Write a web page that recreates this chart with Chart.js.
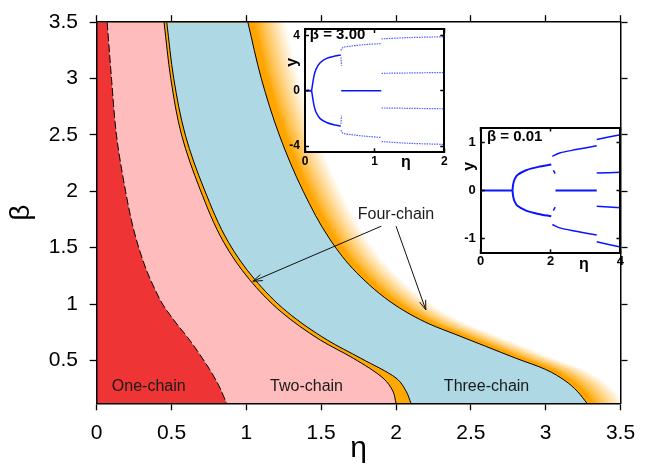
<!DOCTYPE html>
<html>
<head>
<meta charset="utf-8">
<script src="https://cdn.jsdelivr.net/npm/chart.js@4/dist/chart.umd.min.js"></script>
<style>
  html, body { margin: 0; padding: 0; background: #fff; }
  #wrap { position: relative; width: 648px; height: 464px; }
  #wrap canvas { position: absolute; }
</style>
</head>
<body>
<div id="wrap">
  <canvas id="main" width="648" height="464" style="left:0;top:0"></canvas>
  <canvas id="inset3" width="185" height="165" style="left:270px;top:14px"></canvas>
  <canvas id="inset0" width="185" height="172" style="left:445px;top:112px"></canvas>
</div>
<script>
Chart.defaults.font.family = '"Liberation Sans", Arial, sans-serif';
Chart.defaults.color = '#000';

// ---- phase diagram ----
const etaTicks = [0, 0.5, 1, 1.5, 2, 2.5, 3, 3.5];
const betaTicks = [0.5, 1, 1.5, 2, 2.5, 3, 3.5];

// boundaries, read from the top (beta = 3.5) down to the bottom edge
const oneTwoBeta = [3.5, 3.0, 2.5, 2.0, 1.63, 1.31, 1.12, 1.0, 0.85, 0.7, 0.58, 0.43, 0.28, 0.12];
const oneTwoEta  = [0.07, 0.099, 0.132, 0.193, 0.253, 0.33, 0.393, 0.44, 0.52, 0.61, 0.675, 0.75, 0.815, 0.868];

const twoFourBeta = [3.5, 3.0, 2.5, 2.02, 1.545, 1.219, 0.928, 0.68, 0.519, 0.344, 0.228, 0.12];
const twoFourEta  = [0.45, 0.495, 0.567, 0.69, 0.85, 1.02, 1.235, 1.495, 1.715, 1.913, 1.979, 2.0];

const fourThreeBeta = [3.5, 3.0, 2.5, 2.02, 1.545, 1.219, 0.928, 0.68, 0.519, 0.344, 0.228, 0.12];
const fourThreeEta  = [0.468, 0.515, 0.592, 0.718, 0.882, 1.056, 1.275, 1.542, 1.765, 2.0, 2.067, 2.10];

const threeFourBeta = [3.5, 3.0, 2.5, 2.0, 1.569, 1.278, 0.986, 0.825, 0.73, 0.625, 0.52, 0.42, 0.32, 0.228, 0.12];
const threeFourEta  = [1.01, 1.10, 1.22, 1.38, 1.561, 1.737, 2.0, 2.22, 2.4, 2.6, 2.8, 3.0, 3.13, 3.21, 3.276];

const noteText = ['One-chain', 'Two-chain', 'Three-chain', 'Four-chain'];
const noteEta  = [0.348, 1.402, 2.605, 2.0];
const noteBeta = [0.265, 0.265, 0.265, 1.79];
const arrowTail = [[1.902, 1.691], [2.0, 1.691]];
const arrowHead = [[1.044, 1.202], [2.199, 0.949]];

// ---- inset, beta = 3.00 ----
const b3EtaTicks = [0, 1, 2];
const b3YTicks = [-4, 0, 4];
const b3Zero1Eta = [0, 0.095], b3Zero1Y = [0, 0];
const b3UpEta = [0.095, 0.11, 0.13, 0.157, 0.214, 0.31, 0.43, 0.514];
const b3UpY   = [0, 0.5, 1.08, 1.54, 2.0, 2.33, 2.5, 2.58];
const b3LoY   = [0, -0.5, -1.08, -1.54, -2.0, -2.3, -2.48, -2.55];
const b3JumpEta = [0.515, 0.525], b3JumpUpY = [2.4, 1.8], b3JumpLoY = [-2.4, -1.8];
const b3Up2Eta = [0.514, 0.548, 0.667, 0.85, 1.095];
const b3Up2Y   = [2.9, 3.12, 3.22, 3.32, 3.4];
const b3Lo2Y   = [-2.85, -3.08, -3.18, -3.28, -3.38];
const b3Zero2Eta = [0.52, 1.095], b3Zero2Y = [0, 0];
const b3Out3Eta = [1.1, 1.5, 2.0];
const b3Up3Y = [3.74, 3.83, 3.89], b3Lo3Y = [-3.68, -3.8, -3.88];
const b3MidEta = [1.1, 2.0];
const b3MidUpY = [1.25, 1.31], b3MidLoY = [-1.25, -1.31];

// ---- inset, beta = 0.01 ----
const b0EtaTicks = [0, 2, 4];
const b0YTicks = [-1, 0, 1];
const b0Zero1Eta = [0, 0.91], b0Zero1Y = [0, 0];
const b0UpEta = [0.91, 0.93, 0.97, 1.05, 1.3, 1.65, 2.02];
const b0UpY   = [0, 0.13, 0.23, 0.32, 0.42, 0.49, 0.54];
const b0LoY   = [0, -0.13, -0.23, -0.32, -0.42, -0.49, -0.54];
const b0JumpEta = [2.08, 2.13], b0JumpUpY = [0.42, 0.35], b0JumpLoY = [-0.42, -0.35];
const b0Up2Eta = [2.05, 2.26, 2.73, 3.32];
const b0Up2Y   = [0.71, 0.78, 0.85, 0.93];
const b0Lo2Y   = [-0.71, -0.78, -0.85, -0.93];
const b0Zero2Eta = [2.14, 3.32], b0Zero2Y = [0, 0];
const b0Out3Eta = [3.32, 4.0];
const b0Up3Y = [1.06, 1.16], b0MidUpY = [0.36, 0.38], b0MidLoY = [-0.33, -0.36], b0Lo3Y = [-1.07, -1.18];

function pts(xs, ys) {
  return xs.map((v, i) => ({ x: v, y: ys[i] }));
}

// orange fade to the right of the three-chain boundary
const fade = {
  id: 'fade',
  beforeDatasetsDraw(chart) {
    const line = chart.getDatasetMeta(3).dataset;
    const { ctx, chartArea: a } = chart;
    ctx.save();
    ctx.beginPath();
    ctx.rect(a.left, a.top, a.right - a.left, a.bottom - a.top);
    ctx.clip();
    for (let i = 40; i >= 0; i--) {
      let t = Math.min(1, Math.max(0, (i - 7) / 32));
      t = Math.pow(t, 0.85);
      ctx.fillStyle = 'rgb(255,' + Math.round(165 + 90 * t) + ',' + Math.round(255 * t) + ')';
      ctx.save();
      ctx.translate(i, 0);
      ctx.beginPath();
      line.path(ctx);
      ctx.lineTo(a.left - 60, a.bottom);
      ctx.lineTo(a.left - 60, a.top);
      ctx.closePath();
      ctx.fill();
      ctx.restore();
    }
    ctx.restore();
  }
};

const notes = {
  id: 'notes',
  afterDatasetsDraw(chart) {
    const { ctx } = chart;
    const x = chart.scales.x, y = chart.scales.y;
    ctx.save();
    ctx.fillStyle = '#1a1a1a';
    ctx.font = '16px "Liberation Sans"';
    ctx.textAlign = 'center';
    ctx.textBaseline = 'middle';
    noteText.forEach((t, i) => ctx.fillText(t, x.getPixelForValue(noteEta[i]), y.getPixelForValue(noteBeta[i])));
    ctx.strokeStyle = '#111';
    ctx.lineWidth = 1;
    arrowTail.forEach((p, i) => {
      const x0 = x.getPixelForValue(p[0]), y0 = y.getPixelForValue(p[1]);
      const x1 = x.getPixelForValue(arrowHead[i][0]), y1 = y.getPixelForValue(arrowHead[i][1]);
      const ang = Math.atan2(y1 - y0, x1 - x0);
      ctx.beginPath();
      ctx.moveTo(x0, y0);
      ctx.lineTo(x1, y1);
      ctx.moveTo(x1 - 10 * Math.cos(ang - 0.33), y1 - 10 * Math.sin(ang - 0.33));
      ctx.lineTo(x1, y1);
      ctx.lineTo(x1 - 10 * Math.cos(ang + 0.33), y1 - 10 * Math.sin(ang + 0.33));
      ctx.stroke();
    });
    ctx.restore();
  }
};

function mainAxis(pos, min, max, ticks, size, showLabels, pad) {
  const horiz = pos === 'top' || pos === 'bottom';
  return {
    type: 'linear', position: pos, min: min, max: max,
    afterBuildTicks: s => { s.ticks = ticks.map(v => ({ value: v })); },
    afterFit: s => { if (horiz) s.height = size; else s.width = size; },
    ticks: { display: showLabels, font: { size: 21, lineHeight: 1 }, padding: pad, color: '#000', callback: v => String(v) },
    grid: { drawOnChartArea: false, tickLength: 7, tickColor: '#000', tickWidth: 1.3, z: 1 },
    border: { color: '#000', width: 1.5, z: 1 }
  };
}

const xMain = mainAxis('bottom', 0, 3.5, etaTicks, 60.7, true, 12.9);
xMain.title = { display: true, text: 'η', font: { size: 30, lineHeight: 1 }, padding: 0, color: '#000' };
const yMain = mainAxis('left', 0.12, 3.5, betaTicks, 96.7, true, 11.7);
yMain.title = { display: true, text: 'β', font: { size: 28, lineHeight: 1 }, padding: { top: 7, bottom: 0 }, color: '#000' };

new Chart(document.getElementById('main'), {
  type: 'line',
  data: {
    datasets: [
      { data: pts(oneTwoEta, oneTwoBeta), backgroundColor: '#ee3434', borderColor: '#000', borderWidth: 1, borderDash: [8, 3] },
      { data: pts(twoFourEta, twoFourBeta), backgroundColor: '#ffbcbd', borderColor: '#000', borderWidth: 1 },
      { data: pts(fourThreeEta, fourThreeBeta), backgroundColor: '#ffa800', borderColor: '#000', borderWidth: 1 },
      { data: pts(threeFourEta, threeFourBeta), backgroundColor: '#add8e4', borderColor: '#000', borderWidth: 1 }
    ]
  },
  options: {
    indexAxis: 'y',
    responsive: false,
    animation: false,
    devicePixelRatio: 1,
    layout: { padding: 0, autoPadding: false },
    datasets: { line: { fill: { value: 0 }, cubicInterpolationMode: 'monotone', pointRadius: 0 } },
    plugins: { legend: { display: false }, tooltip: { enabled: false } },
    scales: {
      x: xMain,
      y: yMain,
      x2: mainAxis('top', 0, 3.5, etaTicks, 16, false, 0),
      y2: mainAxis('right', 0.12, 3.5, betaTicks, 20.7, false, 0)
    }
  },
  plugins: [fade, notes]
});

// ---- insets ----
const insetText = {
  id: 'insetText',
  beforeDraw(chart) {
    const { ctx, chartArea: a } = chart;
    ctx.save();
    ctx.fillStyle = '#fff';
    ctx.fillRect(a.left, a.top, a.right - a.left, a.bottom - a.top);
    ctx.restore();
  },
  afterDraw(chart, args, o) {
    const { ctx, chartArea: a } = chart;
    const x = chart.scales.x, y = chart.scales.y;
    ctx.save();
    ctx.fillStyle = '#000';
    ctx.font = 'bold 15px "Liberation Sans"';
    ctx.textAlign = 'left';
    ctx.textBaseline = 'alphabetic';
    ctx.fillText(o.title, x.getPixelForValue(o.titleAt[0]), y.getPixelForValue(o.titleAt[1]));
    ctx.font = 'bold 16px "Liberation Sans"';
    ctx.textAlign = 'center';
    ctx.textBaseline = 'middle';
    ctx.fillText('η', x.getPixelForValue(o.etaAt), a.bottom + o.etaDrop);
    ctx.translate(a.left - o.yGap, y.getPixelForValue(o.yAt));
    ctx.rotate(-Math.PI / 2);
    ctx.fillText('y', 0, 0);
    ctx.restore();
  }
};

function insetAxis(pos, min, max, ticks, size, fontSize, pad) {
  const horiz = pos === 'top' || pos === 'bottom';
  return {
    type: 'linear', position: pos, min: min, max: max,
    afterBuildTicks: s => { s.ticks = ticks.map(v => ({ value: v })); },
    afterFit: s => { if (horiz) s.height = size; else s.width = size; },
    ticks: { display: pos === 'bottom' || pos === 'left', font: { size: fontSize, weight: 'bold', lineHeight: 1 }, padding: pad, color: '#000', callback: v => String(v) },
    grid: { drawOnChartArea: false, tickLength: -4, tickColor: '#000', tickWidth: 1.5, z: 1 },
    border: { color: '#000', width: 2, z: 1 }
  };
}

function branchSet(b) {
  // b: [eta, y, style]  style 2 = bold, 1 = solid, 0 = sparse dots
  return {
    data: pts(b[0], b[1]),
    borderColor: b[2] ? '#0a14ff' : 'rgba(30,45,255,0.75)',
    borderWidth: b[2] === 2 ? 2 : (b[2] ? 1.5 : 1.2),
    borderDash: b[2] ? [] : [1.5, 1],
    tension: 0.3, pointRadius: 0, fill: false
  };
}

function inset(id, branches, xr, yr, xt, yt, m, fs, pads, text) {
  new Chart(document.getElementById(id), {
    type: 'line',
    data: { datasets: branches.map(branchSet) },
    options: {
      responsive: false,
      animation: false,
      devicePixelRatio: 1,
      layout: { padding: 0, autoPadding: false },
      plugins: { legend: { display: false }, tooltip: { enabled: false }, insetText: text },
      scales: {
        x: insetAxis('bottom', xr[0], xr[1], xt, m[3], fs, pads[0]),
        y: insetAxis('left', yr[0], yr[1], yt, m[0], fs, pads[1]),
        x2: insetAxis('top', xr[0], xr[1], xt, m[1], fs, 0),
        y2: insetAxis('right', yr[0], yr[1], yt, m[2], fs, 0)
      }
    },
    plugins: [insetText]
  });
}

inset('inset3', [
  [b3Zero1Eta, b3Zero1Y, 2], [b3UpEta, b3UpY, 1], [b3UpEta, b3LoY, 1],
  [b3JumpEta, b3JumpUpY, 0], [b3JumpEta, b3JumpLoY, 0],
  [b3Up2Eta, b3Up2Y, 0], [b3Up2Eta, b3Lo2Y, 0], [b3Zero2Eta, b3Zero2Y, 1],
  [b3Out3Eta, b3Up3Y, 0], [b3Out3Eta, b3Lo3Y, 0], [b3MidEta, b3MidUpY, 0], [b3MidEta, b3MidLoY, 0]
], [0, 2], [-4.45, 4.45], b3EtaTicks, b3YTicks, [35, 9.5, 10, 26.7], 12, [7.4, 9],
  { title: 'β = 3.00', titleAt: [0.07, 3.72], etaAt: 1.45, etaDrop: 10, yAt: 2.05, yGap: 12.5 });

inset('inset0', [
  [b0Zero1Eta, b0Zero1Y, 2], [b0UpEta, b0UpY, 2], [b0UpEta, b0LoY, 2],
  [b0JumpEta, b0JumpUpY, 1], [b0JumpEta, b0JumpLoY, 1],
  [b0Up2Eta, b0Up2Y, 1], [b0Up2Eta, b0Lo2Y, 1], [b0Zero2Eta, b0Zero2Y, 2],
  [b0Out3Eta, b0Up3Y, 1], [b0Out3Eta, b0MidUpY, 1], [b0Out3Eta, b0MidLoY, 1], [b0Out3Eta, b0Lo3Y, 1]
], [0, 4], [-1.31, 1.31], b0EtaTicks, b0YTicks, [35.7, 9, 8.7, 30.7], 13, [5.9, 9],
  { title: 'β = 0.01', titleAt: [0.18, 1.03], etaAt: 2.95, etaDrop: 11.7, yAt: 0.5, yGap: 10.7 });
</script>
</body>
</html>
